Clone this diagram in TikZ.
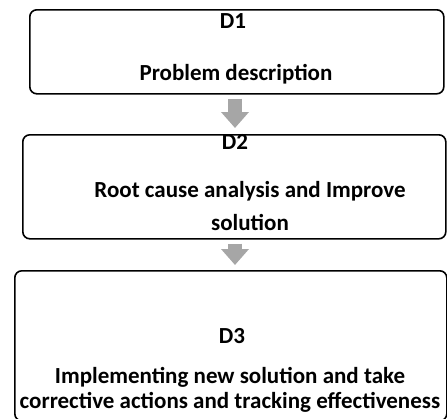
\documentclass[tikz,border=0pt]{standalone}
\usepackage{fontspec}
\setmainfont{Carlito}
\usetikzlibrary{positioning}
\usetikzlibrary{arrows.meta}
\definecolor{arrowgray}{HTML}{A6A6A6}

\begin{document}
\begin{tikzpicture}[x=1pt, y=-1pt,
    stagebox/.style={draw, line width=1.6pt, rounded corners=7pt, inner sep=0pt, anchor=north west},
    stagetext/.style={font=\bfseries\fontsize{23}{25}\selectfont, align=center, inner sep=0pt, anchor=base},
    downarrow/.style={draw=arrowgray, line width=14pt, -{Triangle[length=16pt, width=27pt]}}]
    \useasboundingbox (0,0) rectangle (447,418);
    \clip (0,0) rectangle (447,418);

    % Boxes
    \node[stagebox, minimum width=414pt, minimum height=84pt] (d1box) at (29,9) {};
    \node[stagebox, minimum width=423pt, minimum height=104pt] (d2box) at (22,134) {};
    \node[stagebox, minimum width=432pt, minimum height=150pt] (d3box) at (14,270) {};

    % Texts (base = baseline of the last line)
    \node[stagetext] (d1title) at (233,28) {D1};
    \node[stagetext] (d1text) at (236,80) {Problem description};
    \node[stagetext] (d2title) at (235,149) {D2};
    \node[stagetext, font=\bfseries\fontsize{23}{33}\selectfont] (d2text) at (250,230)
        {Root cause analysis and Improve\\solution};
    \node[stagetext] (d3title) at (232,343) {D3};
    \node[stagetext] (d3text) at (230,408)
        {Implementing new solution and take\\corrective actions and tracking effectiveness};

    % Arrows
    \coordinate (arrowx) at (235,0);
    \draw[downarrow, shorten <=4pt, shorten >=6pt] (d1box.south -| arrowx) -- (d2box.north -| arrowx);
    \draw[downarrow, shorten <=4pt, shorten >=5pt] (d2box.south -| arrowx) -- (d3box.north -| arrowx);
\end{tikzpicture}
\end{document}
